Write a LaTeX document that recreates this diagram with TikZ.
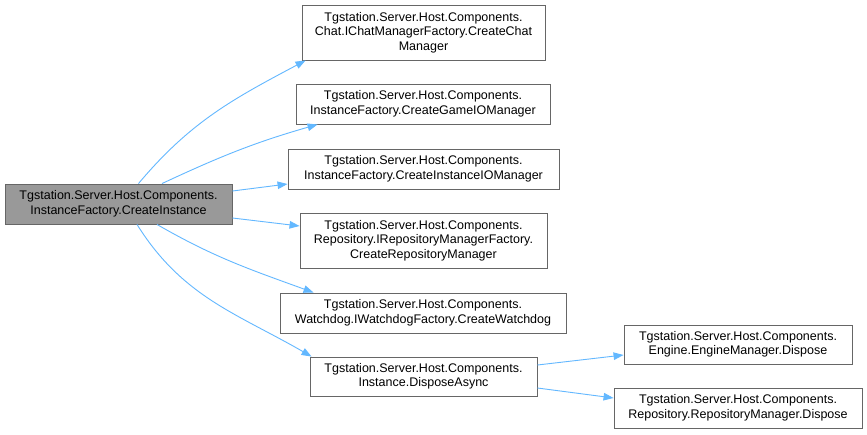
\documentclass[tikz,border=0pt]{standalone}
\usepackage{fontspec}
\setmainfont{Liberation Sans}
\usetikzlibrary{positioning, arrows.meta}
\definecolor{edgeblue}{HTML}{63B8FF}
\definecolor{boxline}{HTML}{666666}
\definecolor{rootfill}{HTML}{999999}

\begin{document}
\begin{tikzpicture}[x=1pt, y=1pt,
  fn/.style={draw=boxline, fill=white, align=center, inner sep=0pt, line width=0.9pt,
    font=\fontsize{12.5}{14.5}\selectfont, minimum height=40pt},
  rootfn/.style={fn, fill=rootfill},
  call/.style={draw=edgeblue, line width=0.9pt, -{Triangle[length=10pt, width=7.5pt]}}]
  \useasboundingbox[fill=white] (0,0) rectangle (867,-434);
  \node[rootfn, minimum width=227pt] (root) at (118.5,-204) {Tgstation.Server.Host.Components.\\InstanceFactory.CreateInstance};
  \node[fn, minimum width=243pt, minimum height=55pt] (chat) at (423.5,-32.5) {Tgstation.Server.Host.Components.\\Chat.IChatManagerFactory.CreateChat\\Manager};
  \node[fn, minimum width=254pt] (gameio) at (423,-104) {Tgstation.Server.Host.Components.\\InstanceFactory.CreateGameIOManager};
  \node[fn, minimum width=271pt] (instio) at (423.5,-169) {Tgstation.Server.Host.Components.\\InstanceFactory.CreateInstanceIOManager};
  \node[fn, minimum width=247pt, minimum height=55pt] (repof) at (423.5,-240.5) {Tgstation.Server.Host.Components.\\Repository.IRepositoryManagerFactory.\\CreateRepositoryManager};
  \node[fn, minimum width=286pt] (watch) at (423,-313) {Tgstation.Server.Host.Components.\\Watchdog.IWatchdogFactory.CreateWatchdog};
  \node[fn, minimum width=227pt, minimum height=39pt] (dispa) at (423.5,-376.5) {Tgstation.Server.Host.Components.\\Instance.DisposeAsync};
  \node[fn, minimum width=228pt, minimum height=39pt] (engine) at (738,-344.5) {Tgstation.Server.Host.Components.\\Engine.EngineManager.Dispose};
  \node[fn, minimum width=248pt] (repom) at (738,-408) {Tgstation.Server.Host.Components.\\Repository.RepositoryManager.Dispose};
  % calls out of CreateInstance
  \draw[call] ([xshift=20pt]root.north) to[out=50, in=208] ([xshift=4pt]chat.south west);
  \draw[call] ([xshift=43.5pt]root.north) to[out=25, in=196] ([xshift=22pt]gameio.south west);
  \draw[call] ([yshift=13pt]root.east) -- ([yshift=-15pt]instio.west);
  \draw[call] ([yshift=-14pt]root.east) -- ([yshift=14.5pt]repof.west);
  \draw[call] ([xshift=38.5pt]root.south) to[out=-30, in=160] ([xshift=34pt]watch.north west);
  \draw[call] ([xshift=18.5pt]root.south) to[out=-58, in=150] ([xshift=2pt]dispa.north west);
  % calls out of DisposeAsync
  \draw[call] ([yshift=11.5pt]dispa.east) -- ([yshift=-10.5pt]engine.west);
  \draw[call] ([yshift=-11.5pt]dispa.east) -- ([yshift=10pt]repom.west);
\end{tikzpicture}
\end{document}
